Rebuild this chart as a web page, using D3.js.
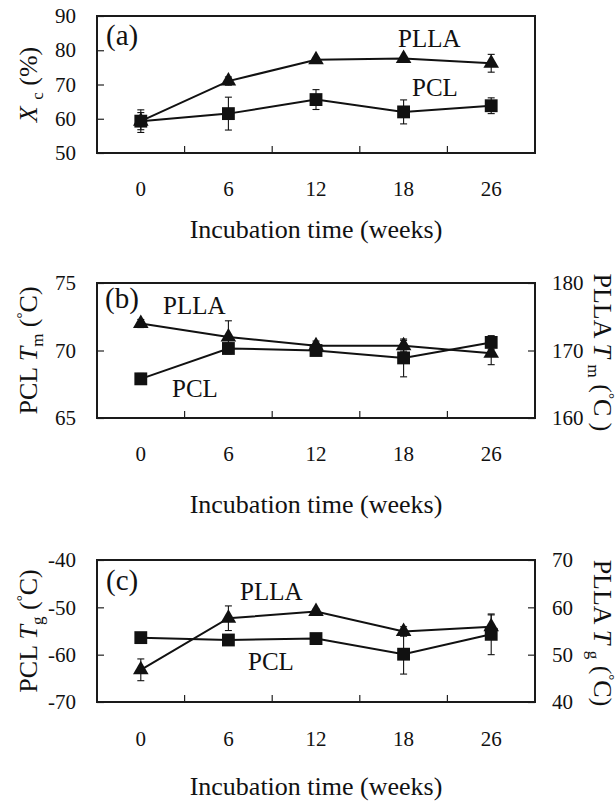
<!DOCTYPE html>
<html><head><meta charset="utf-8">
<script src="https://cdn.jsdelivr.net/npm/d3@7"></script>
<style>
html,body{margin:0;padding:0;background:#fff;}
svg{display:block;}
svg text{font-family:"Liberation Serif","Times New Roman",Times,"DejaVu Serif",serif !important;fill:#111;}
</style></head>
<body>
<svg id="chart" width="616" height="804"></svg>
<script>
// ---------- data ----------
const weeks = ["0", "6", "12", "18", "26"];

// (a) crystallinity Xc (%)
const xcTicks = [50, 60, 70, 80, 90];
const xcPLLA = [59.3, 71.0, 77.2, 77.6, 76.2];
const xcPLLAErr = [2.5, 1.2, 0.5, 0.5, 2.6];
const xcPCL = [59.3, 61.5, 65.6, 62.0, 63.8];
const xcPCLErr = [3.3, 4.8, 2.9, 3.5, 2.3];

// (b) melting temperature Tm (°C)
const tmPCLTicks = [65, 70, 75];
const tmPLLATicks = [160, 170, 180];
const tmPCL = [67.9, 70.15, 70.0, 69.45, 70.6];
const tmPCLErr = [0.4, 0.4, 0.3, 1.4, 0.5];
const tmPLLA = [174.0, 172.0, 170.7, 170.7, 169.6];
const tmPLLAErr = [0.6, 2.4, 0.7, 0.8, 1.7];

// (c) glass transition Tg (°C)
const tgPCLTicks = [-70, -60, -50, -40];
const tgPLLATicks = [40, 50, 60, 70];
const tgPCL = [-56.4, -56.9, -56.6, -59.9, -55.7];
const tgPCLErr = [0.5, 0.5, 0.5, 4.2, 4.3];
const tgPLLA = [46.8, 57.7, 59.1, 54.9, 55.9];
const tgPLLAErr = [2.3, 2.6, 0.5, 1.0, 2.5];

const xTitle = "Incubation time (weeks)";

// ---------- drawing ----------
const FONT = "'Liberation Serif', 'Times New Roman', Times, 'DejaVu Serif', serif";
const svg = d3.select("#chart");
const L = 97, R = 535;
const x = d3.scaleBand().domain(weeks).range([L, R]);
const xc = d => x(d) + x.bandwidth() / 2;

function richText(sel, parts) {
  parts.forEach(p => {
    const t = sel.append("tspan").text(p.t);
    if (p.i) t.attr("font-style", "italic");
    if (p.sub) t.attr("font-size", 17).attr("dy", 6);
    if (p.sup) t.attr("font-size", 15).attr("dy", -10);
    if (p.dy) t.attr("dy", p.dy);
    if (p.dx) t.attr("dx", p.dx);
  });
}

function styleTicks(sel) {
  sel.selectAll("text").attr("font-size", 21).attr("fill", "#111").attr("font-family", FONT);
}

function panel(cfg) {
  const g = svg.append("g").attr("font-family", FONT);
  const yL = d3.scaleLinear().domain(cfg.leftDomain).range([cfg.bottom, cfg.top]);
  const yR = cfg.rightDomain ? d3.scaleLinear().domain(cfg.rightDomain).range([cfg.bottom, cfg.top]) : null;

  // left axis
  const ax = g.append("g").attr("transform", `translate(${L},0)`)
    .call(d3.axisLeft(yL).tickValues(cfg.leftTicks).tickSize(-7).tickPadding(21).tickFormat(d => String(d)));
  ax.attr("font-family", FONT);
  ax.select(".domain").remove();
  ax.selectAll("line").attr("stroke", "#222").attr("stroke-width", 1.2);
  styleTicks(ax);

  if (yR) {
    const axr = g.append("g").attr("transform", `translate(${R},0)`)
      .call(d3.axisRight(yR).tickValues(cfg.rightTicks).tickSize(-7).tickPadding(17).tickFormat(d => String(d)));
    axr.attr("font-family", FONT);
    axr.select(".domain").remove();
    axr.selectAll("line").attr("stroke", "#222").attr("stroke-width", 1.2);
    styleTicks(axr);
  }

  // bottom axis labels
  const bx = g.append("g").attr("transform", `translate(0,${cfg.bottom})`)
    .call(d3.axisBottom(x).tickSize(0).tickPadding(cfg.tickPad));
  bx.attr("font-family", FONT);
  bx.select(".domain").remove();
  styleTicks(bx);
  // inner ticks at band boundaries
  g.append("g").selectAll("line").data(weeks.slice(1)).join("line")
    .attr("x1", d => x(d)).attr("x2", d => x(d))
    .attr("y1", cfg.bottom).attr("y2", cfg.bottom - 7)
    .attr("stroke", "#222").attr("stroke-width", 1.2);

  // frame
  g.append("rect").attr("x", L).attr("y", cfg.top).attr("width", R - L).attr("height", cfg.bottom - cfg.top)
    .attr("fill", "none").attr("stroke", "#1a1a1a").attr("stroke-width", 2);

  // series
  cfg.series.forEach(s => {
    const sc = s.right ? yR : yL;
    const line = d3.line().x((d, i) => xc(weeks[i])).y(d => sc(d));
    g.append("path").datum(s.values).attr("d", line)
      .attr("fill", "none").attr("stroke", "#111").attr("stroke-width", 2);
  });
  cfg.series.forEach(s => {
    const sc = s.right ? yR : yL;
    const eb = g.append("g");
    s.values.forEach((v, i) => {
      const cx = xc(weeks[i]), e = s.err[i];
      const y1 = sc(v + e), y2 = sc(v - e);
      eb.append("line").attr("x1", cx).attr("x2", cx).attr("y1", y1).attr("y2", y2).attr("stroke", "#111").attr("stroke-width", 1.1);
      [y1, y2].forEach(yy => eb.append("line").attr("x1", cx - 3.5).attr("x2", cx + 3.5).attr("y1", yy).attr("y2", yy).attr("stroke", "#111").attr("stroke-width", 1.1));
    });
  });
  cfg.series.forEach(s => {
    const sc = s.right ? yR : yL;
    const sym = d3.symbol().type(s.shape === "tri" ? d3.symbolTriangle : d3.symbolSquare).size(s.shape === "tri" ? 105 : 165);
    g.append("g").selectAll("path").data(s.values).join("path")
      .attr("transform", (d, i) => `translate(${xc(weeks[i])},${sc(d)})`)
      .attr("d", sym).attr("fill", "#111");
  });

  // labels
  g.append("text").attr("x", cfg.panelLabel[1]).attr("y", cfg.panelLabel[2]).attr("font-size", 29).text(cfg.panelLabel[0]);
  cfg.labels.forEach(l => g.append("text").attr("x", l[1]).attr("y", l[2]).attr("font-size", 25).text(l[0]));

  // x title
  g.append("text").attr("x", (L + R) / 2).attr("y", cfg.titleY).attr("text-anchor", "middle").attr("font-size", 26).text(xTitle);

  // y titles
  const cy = (cfg.top + cfg.bottom) / 2;
  const lt = g.append("text").attr("transform", `translate(37,${cy}) rotate(-90)`).attr("text-anchor", "middle").attr("font-size", 26);
  richText(lt, cfg.leftTitle);
  if (cfg.rightTitle) {
    const rt = g.append("text").attr("transform", `translate(594,${cy + 2}) rotate(90)`).attr("text-anchor", "middle").attr("font-size", 26);
    richText(rt, cfg.rightTitle);
  }
}

panel({
  top: 16, bottom: 153, tickPad: 28, titleY: 238,
  leftDomain: [50, 90], leftTicks: xcTicks,
  series: [
    { values: xcPLLA, err: xcPLLAErr, shape: "tri" },
    { values: xcPCL, err: xcPCLErr, shape: "sq" }
  ],
  panelLabel: ["(a)", 106, 45],
  labels: [["PLLA", 398, 47], ["PCL", 412, 96]],
  leftTitle: [{ t: "X", i: true }, { t: " " }, { t: "c", sub: true }, { t: " (%)", dy: -6 }]
});

panel({
  top: 283, bottom: 418, tickPad: 28, titleY: 513,
  leftDomain: [65, 75], leftTicks: tmPCLTicks,
  rightDomain: [160, 180], rightTicks: tmPLLATicks,
  series: [
    { values: tmPLLA, err: tmPLLAErr, shape: "tri", right: true },
    { values: tmPCL, err: tmPCLErr, shape: "sq" }
  ],
  panelLabel: ["(b)", 105, 308],
  labels: [["PLLA", 163, 314], ["PCL", 172, 397]],
  leftTitle: [{ t: "PCL " }, { t: "T", i: true }, { t: "m", sub: true }, { t: " (", dy: -6 }, { t: "°", sup: true }, { t: "C)", dy: 10 }],
  rightTitle: [{ t: "PLLA  " }, { t: "T", i: true }, { t: " " }, { t: "m", sub: true }, { t: " (", dy: -6 }, { t: "°", sup: true }, { t: "C )", dy: 10 }]
});

panel({
  top: 560, bottom: 702, tickPad: 29, titleY: 795,
  leftDomain: [-70, -40], leftTicks: tgPCLTicks,
  rightDomain: [40, 70], rightTicks: tgPLLATicks,
  series: [
    { values: tgPLLA, err: tgPLLAErr, shape: "tri", right: true },
    { values: tgPCL, err: tgPCLErr, shape: "sq" }
  ],
  panelLabel: ["(c)", 106, 590],
  labels: [["PLLA", 240, 600], ["PCL", 248, 670]],
  leftTitle: [{ t: "PCL " }, { t: "T", i: true }, { t: "g", sub: true }, { t: " (", dy: -6 }, { t: "°", sup: true }, { t: "C)", dy: 10 }],
  rightTitle: [{ t: "PLLA " }, { t: "T", i: true }, { t: " " }, { t: "g", sub: true }, { t: " (", dy: -6 }, { t: "°", sup: true }, { t: "C)", dy: 10 }]
});
</script>
</body></html>
